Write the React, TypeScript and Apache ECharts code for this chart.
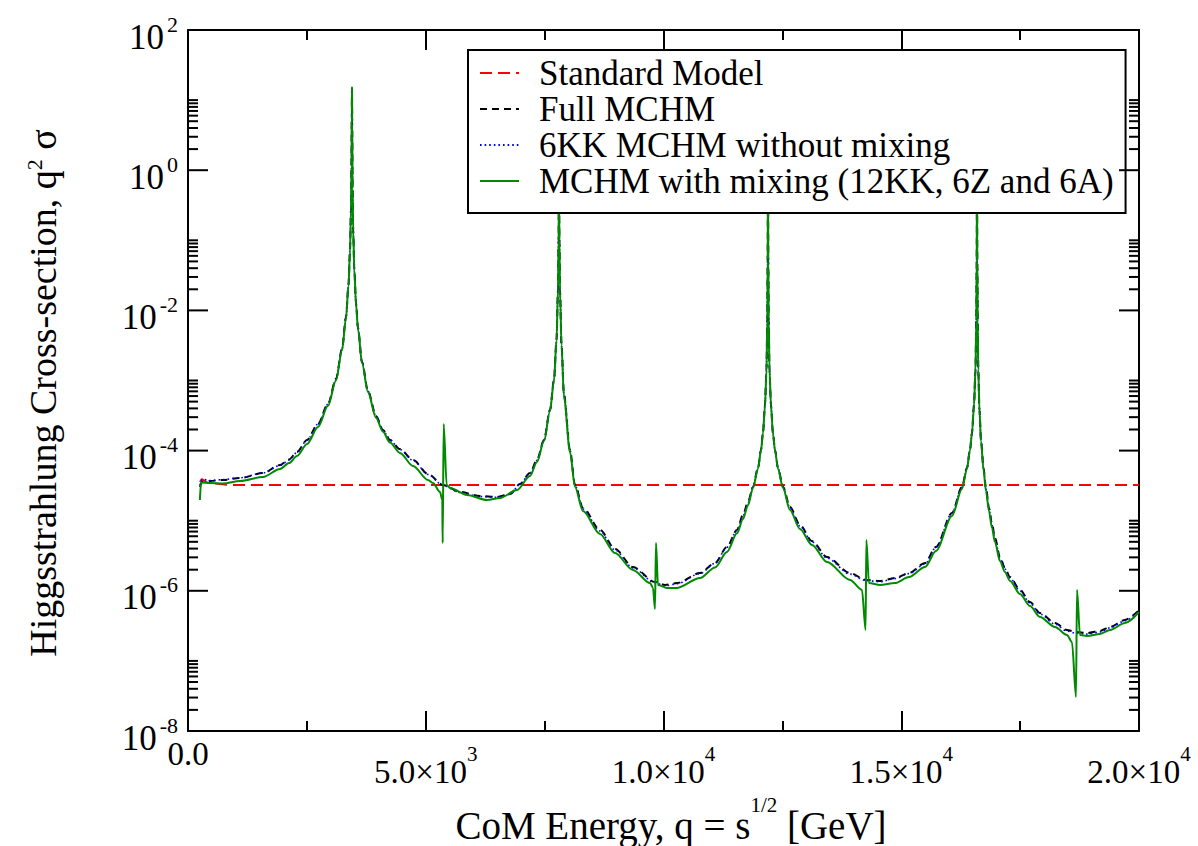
import React, { useEffect, useRef } from 'react';
import * as echarts from 'echarts';

const FONT = 'Liberation Serif, Times New Roman, Times, serif';

// ---- axis ticks / labels ----
const X_TICKS = [0, 5000, 10000, 15000, 20000];
const X_TICK_BASES = ['0.0', '5.0×10', '1.0×10', '1.5×10', '2.0×10'];
const X_TICK_EXPONENTS = ['', '3', '4', '4', '4'];

const Y_MAJOR_TICKS = [1e-8, 1e-6, 1e-4, 1e-2, 1, 100];
const Y_TICK_EXPONENTS = ['-8', '-6', '-4', '-2', '0', '2'];
const Y_MINOR_MULTIPLES = [2, 3, 4, 5, 6, 7, 8, 9, 10];

const LEGEND_NAMES = [
  'Standard Model',
  'Full MCHM',
  '6KK MCHM without mixing',
  'MCHM with mixing (12KK, 6Z and 6A)',
];

// ---- series values: [q (GeV), q^2 sigma] ----
const SM_DATA = [
  [252, 3.56e-5], [290, 3.93e-5], [420, 3.45e-5], [900, 3.23e-5], [20000, 3.23e-5],
];

const FULL_DATA = [
  [252, 3.03e-5], [294, 3.56e-5], [463, 3.68e-5], [736, 3.81e-5], [1094, 4.06e-5],
  [1577, 4.79e-5], [1935, 6.23e-5], [2124, 7.46e-5], [2292, 9.55e-5], [2503, 1.417e-4],
  [2734, 2.4e-4], [2944, 4.62e-4], [3112, 1.05e-3], [3239, 2.81e-3], [3323, 8.05e-3],
  [3375, 2.3e-2], [3407, 7.04e-2], [3428, 0.28], [3438, 1.15], [3445, 7.0], [3449, 14.9],
  [3453, 5.03], [3461, 0.557], [3474, 0.14], [3497, 3.9e-2], [3533, 1.276e-2], [3575, 5.61e-3],
  [3659, 1.84e-3], [3785, 7.08e-4], [3954, 3.12e-4], [4101, 1.97e-4], [4248, 1.417e-4],
  [4458, 1.05e-4], [4732, 7.34e-5], [5047, 4.64e-5], [5363, 3.23e-5], [5720, 2.57e-5],
  [6141, 2.25e-5], [6498, 2.18e-5], [6772, 2.4e-5], [6982, 3.34e-5], [7192, 4.79e-5],
  [7339, 7.34e-5], [7487, 1.417e-4], [7613, 3.8e-4], [7697, 1.017e-3], [7750, 3.78e-3],
  [7781, 1.955e-2], [7794, 0.101], [7800, 0.376], [7802, 1.0], [7804, 0.376],
  [7811, 0.101], [7823, 1.955e-2], [7855, 3.21e-3], [7907, 6.21e-4], [8033, 1.02e-4],
  [8139, 3.23e-5], [8307, 1.52e-5], [8664, 7.37e-6], [8980, 3.95e-6], [9358, 2.18e-6],
  [9821, 1.335e-6], [10031, 1.21e-6], [10284, 1.29e-6], [10767, 1.79e-6], [11083, 2.49e-6],
  [11335, 4.22e-6], [11545, 7.37e-6], [11672, 1.21e-5], [11777, 1.85e-5], [11882, 3.03e-5],
  [11987, 5.65e-5], [12050, 1.02e-4], [12092, 1.78e-4], [12134, 4.47e-4], [12166, 1.412e-3],
  [12183, 7.3e-3], [12191, 5.24e-2], [12197, 1.0], [12204, 5.24e-2], [12212, 7.3e-3],
  [12229, 1.412e-3], [12260, 4.47e-4], [12302, 1.78e-4], [12345, 1.02e-4], [12408, 5.65e-5],
  [12513, 3.03e-5], [12660, 1.57e-5], [12870, 8.68e-6], [13123, 5.13e-6], [13438, 3.03e-6],
  [13922, 1.79e-6], [14258, 1.43e-6], [14553, 1.38e-6], [14868, 1.52e-6], [15163, 1.79e-6],
  [15499, 2.49e-6], [15730, 4.22e-6], [16067, 1.29e-5], [16277, 3.03e-5], [16382, 5.65e-5],
  [16445, 1.02e-4], [16487, 1.78e-4], [16530, 4.47e-4], [16561, 1.412e-3], [16578, 7.3e-3],
  [16587, 5.24e-2], [16593, 1.0], [16599, 5.24e-2], [16608, 7.3e-3], [16620, 1.412e-3],
  [16645, 3.8e-4], [16677, 1.417e-4], [16730, 5.65e-5], [16782, 2.93e-5], [16845, 1.52e-5],
  [16908, 8.97e-6], [16971, 5.67e-6], [17076, 3.03e-6], [17181, 2.12e-6], [17287, 1.57e-6],
  [17497, 1.03e-6], [17707, 6.92e-7], [17918, 4.82e-7], [18233, 3.47e-7], [18485, 2.76e-7],
  [18675, 2.58e-7], [18906, 2.5e-7], [19179, 2.67e-7], [19390, 3.05e-7], [19705, 3.83e-7],
  [20000, 5.32e-7],
];

const KK6_DATA = [
  [252, 3.2e-5], [294, 3.9e-5], [463, 3.75e-5], [736, 3.85e-5], [1094, 4.1e-5],
  [1577, 4.8e-5], [1935, 6.13e-5], [2124, 7.34e-5], [2292, 9.4e-5], [2503, 1.41e-4],
  [2734, 2.39e-4], [2944, 4.6e-4], [3112, 1.045e-3], [3239, 2.8e-3], [3323, 8.0e-3],
  [3375, 2.29e-2], [3407, 7.0e-2], [3428, 0.28], [3438, 1.15], [3445, 7.0], [3449, 14.9],
  [3453, 5.03], [3461, 0.557], [3474, 0.14], [3497, 3.88e-2], [3533, 1.27e-2], [3575, 5.58e-3],
  [3659, 1.83e-3], [3785, 7.03e-4], [3954, 3.1e-4], [4101, 1.95e-4], [4248, 1.4e-4],
  [4458, 1.04e-4], [4732, 7.25e-5], [5047, 4.58e-5], [5363, 3.18e-5], [5720, 2.53e-5],
  [6141, 2.21e-5], [6498, 2.15e-5], [6772, 2.37e-5], [6982, 3.31e-5], [7192, 4.75e-5],
  [7339, 7.3e-5], [7487, 1.41e-4], [7613, 3.79e-4], [7697, 1.015e-3], [7750, 3.77e-3],
  [7781, 1.95e-2], [7794, 0.1], [7800, 0.376], [7802, 1.0], [7804, 0.376],
  [7811, 0.1], [7823, 1.95e-2], [7855, 3.2e-3], [7907, 6.18e-4], [8033, 1.01e-4],
  [8139, 3.19e-5], [8307, 1.47e-5], [8664, 7.13e-6], [8980, 3.82e-6], [9358, 2.12e-6],
  [9821, 1.3e-6], [10031, 1.18e-6], [10284, 1.26e-6], [10767, 1.76e-6], [11083, 2.46e-6],
  [11335, 4.18e-6], [11545, 7.3e-6], [11672, 1.17e-5], [11777, 1.79e-5], [11882, 3.02e-5],
  [11987, 5.63e-5], [12050, 1.02e-4], [12092, 1.78e-4], [12134, 4.46e-4], [12166, 1.41e-3],
  [12183, 7.3e-3], [12191, 5.24e-2], [12197, 1.0], [12204, 5.24e-2], [12212, 7.3e-3],
  [12229, 1.41e-3], [12260, 4.46e-4], [12302, 1.77e-4], [12345, 1.01e-4], [12408, 5.6e-5],
  [12513, 3.0e-5], [12660, 1.52e-5], [12870, 8.4e-6], [13123, 4.97e-6], [13438, 2.93e-6],
  [13922, 1.73e-6], [14258, 1.4e-6], [14553, 1.35e-6], [14868, 1.49e-6], [15163, 1.76e-6],
  [15499, 2.41e-6], [15730, 4.17e-6], [16067, 1.28e-5], [16277, 3.02e-5], [16382, 5.63e-5],
  [16445, 1.02e-4], [16487, 1.78e-4], [16530, 4.46e-4], [16561, 1.41e-3], [16578, 7.3e-3],
  [16587, 5.24e-2], [16593, 1.0], [16599, 5.24e-2], [16608, 7.3e-3], [16620, 1.41e-3],
  [16645, 3.79e-4], [16677, 1.41e-4], [16730, 5.6e-5], [16782, 2.83e-5], [16845, 1.47e-5],
  [16908, 8.67e-6], [16971, 5.48e-6], [17076, 2.93e-6], [17181, 2.05e-6], [17287, 1.52e-6],
  [17497, 9.95e-7], [17707, 6.7e-7], [17918, 4.66e-7], [18233, 3.35e-7], [18485, 2.66e-7],
  [18675, 2.48e-7], [18906, 2.41e-7], [19179, 2.58e-7], [19390, 2.96e-7], [19705, 3.73e-7],
  [20000, 5.2e-7],
];

const MIX_DATA = [
  [250, 1.97e-5], [273, 3.45e-5], [294, 3.5e-5], [463, 3.45e-5], [736, 3.4e-5],
  [1094, 3.68e-5], [1577, 4.2e-5], [1935, 5.46e-5], [2124, 6.65e-5], [2292, 8.37e-5],
  [2503, 1.243e-4], [2734, 2.17e-4], [2944, 4.35e-4], [3112, 1.0e-3], [3239, 2.7e-3],
  [3323, 7.8e-3], [3375, 2.25e-2], [3407, 6.9e-2], [3428, 0.275], [3438, 1.13], [3445, 7.0],
  [3449, 15.4], [3453, 5.0], [3461, 0.55], [3474, 0.138], [3497, 3.85e-2], [3533, 1.25e-2],
  [3575, 5.45e-3], [3659, 1.78e-3], [3785, 6.8e-4], [3954, 2.95e-4], [4101, 1.85e-4],
  [4248, 1.3e-4], [4458, 9.24e-5], [4732, 6.03e-5], [5047, 3.81e-5], [5152, 3.45e-5],
  [5300, 2.57e-5], [5348, 1.97e-5], [5356, 4.81e-6], [5377, 2.4e-4], [5440, 3.23e-5],
  [5510, 2.93e-5], [5867, 2.33e-5], [6288, 1.97e-5], [6561, 2.11e-5], [6919, 2.74e-5],
  [7192, 4.34e-5], [7339, 6.88e-5], [7487, 1.37e-4], [7613, 3.67e-4], [7697, 1.0e-3],
  [7750, 3.75e-3], [7781, 1.95e-2], [7794, 0.1], [7800, 0.376], [7802, 1.0], [7804, 0.376],
  [7811, 0.1], [7823, 1.95e-2], [7855, 3.15e-3], [7907, 5.82e-4], [8033, 9.55e-5],
  [8139, 3.03e-5], [8307, 1.375e-5], [8664, 6.46e-6], [8980, 3.46e-6], [9358, 1.98e-6],
  [9716, 1.29e-6], [9779, 1.1e-6], [9821, 5.5e-7], [9842, 4.81e-6], [9884, 1.21e-6],
  [10073, 1.1e-6], [10284, 1.1e-6], [10767, 1.52e-6], [11083, 2.15e-6], [11335, 3.58e-6],
  [11545, 6.6e-6], [11672, 1.06e-5], [11777, 1.67e-5], [11882, 2.93e-5], [11987, 5.5e-5],
  [12050, 1.0e-4], [12092, 1.75e-4], [12134, 4.4e-4], [12166, 1.4e-3], [12183, 7.3e-3],
  [12191, 5.24e-2], [12197, 1.0], [12204, 5.24e-2], [12212, 7.3e-3], [12229, 1.4e-3],
  [12260, 4.4e-4], [12302, 1.75e-4], [12345, 1.0e-4], [12408, 5.5e-5], [12513, 2.93e-5],
  [12660, 1.42e-5], [12870, 7.62e-6], [13123, 4.5e-6], [13438, 2.58e-6], [13922, 1.43e-6],
  [14174, 1.03e-6], [14250, 2.76e-7], [14266, 5.3e-6], [14321, 1.29e-6], [14553, 1.21e-6],
  [14868, 1.29e-6], [15163, 1.57e-6], [15499, 2.18e-6], [15730, 3.7e-6], [16067, 1.17e-5],
  [16277, 2.83e-5], [16382, 5.5e-5], [16445, 1.0e-4], [16487, 1.75e-4], [16530, 4.4e-4],
  [16561, 1.4e-3], [16578, 7.3e-3], [16587, 5.24e-2], [16593, 1.0], [16599, 5.24e-2],
  [16608, 7.3e-3], [16620, 1.4e-3], [16645, 3.7e-4], [16677, 1.37e-4], [16730, 5.3e-5],
  [16782, 2.65e-5], [16845, 1.375e-5], [16908, 7.87e-6], [16971, 4.97e-6], [17076, 2.66e-6],
  [17181, 1.855e-6], [17287, 1.38e-6], [17497, 9.0e-7], [17707, 6.07e-7], [17918, 4.23e-7],
  [18233, 3.05e-7], [18485, 2.34e-7], [18590, 1.86e-7], [18675, 3.06e-8], [18696, 1.03e-6],
  [18759, 2.34e-7], [18906, 2.27e-7], [19179, 2.42e-7], [19390, 2.76e-7], [19705, 3.47e-7],
  [20000, 4.98e-7],
];

const X_MIN = 0;
const X_MAX = 20000;

function buildOption(): any {
  const yTickData: number[][] = [];
  Y_MAJOR_TICKS.forEach((v) => yTickData.push([X_MIN, v, 20]));
  Y_MAJOR_TICKS.slice(0, -1).forEach((v) =>
    Y_MINOR_MULTIPLES.forEach((m) => yTickData.push([X_MIN, v * m, 10]))
  );
  const yLabelData = Y_MAJOR_TICKS.map((v, i) => [X_MIN, v, i]);

  const xAxisCommon = {
    type: 'value',
    min: X_MIN,
    max: X_MAX,
    interval: 5000,
    axisLine: { show: true, onZero: false, lineStyle: { color: '#000', width: 2 } },
    axisTick: { show: true, inside: true, length: 20, lineStyle: { color: '#000', width: 2 } },
    minorTick: { show: true, splitNumber: 2, length: 10, lineStyle: { color: '#000', width: 2 } },
    splitLine: { show: false },
    minorSplitLine: { show: false },
  };

  const yAxisCommon = {
    type: 'log',
    logBase: 10,
    min: 1e-8,
    max: 100,
    axisLine: { show: true, onZero: false, lineStyle: { color: '#000', width: 2 } },
    axisTick: { show: false },
    minorTick: { show: false },
    axisLabel: { show: false },
    splitLine: { show: false },
    minorSplitLine: { show: false },
  };

  const lineBase = {
    type: 'line',
    xAxisIndex: 0,
    yAxisIndex: 0,
    showSymbol: false,
    symbol: 'none',
    silent: true,
    clip: true,
    smooth: 0.3,
    smoothMonotone: 'x',
  };

  return {
    animation: false,
    backgroundColor: '#fff',
    grid: { left: 188, top: 30, width: 951, height: 701, show: false },
    xAxis: [
      {
        ...xAxisCommon,
        position: 'bottom',
        axisLabel: {
          show: true,
          margin: 12,
          formatter: (v: number) => {
            const i = X_TICKS.indexOf(v);
            if (i < 0) return '';
            const exp = X_TICK_EXPONENTS[i];
            return exp ? `{b|${X_TICK_BASES[i]}}{s|${exp}}` : `{p|${X_TICK_BASES[i]}}`;
          },
          rich: {
            p: { fontFamily: FONT, fontSize: 33, lineHeight: 22, color: '#000' },
            b: { fontFamily: FONT, fontSize: 33, lineHeight: 58, color: '#000' },
            s: { fontFamily: FONT, fontSize: 21, lineHeight: 28, verticalAlign: 'top', color: '#000' },
          },
        },
      },
      { ...xAxisCommon, position: 'top', axisLabel: { show: false } },
    ],
    yAxis: [
      { ...yAxisCommon, position: 'left' },
      { ...yAxisCommon, position: 'right' },
    ],
    legend: {
      data: LEGEND_NAMES,
      orient: 'vertical',
      left: 468,
      top: 50,
      itemWidth: 39,
      itemHeight: 14,
      itemGap: 0,
      padding: [5, 12, 14, 11],
      backgroundColor: '#fff',
      borderColor: '#000',
      borderWidth: 2,
      borderRadius: 0,
      selectedMode: false,
      itemStyle: { opacity: 0 },
      textStyle: { fontFamily: FONT, fontSize: 35, color: '#000', lineHeight: 36, padding: [0, 0, 0, 15] },
    },
    graphic: [
      {
        type: 'text',
        x: 671,
        y: 805,
        silent: true,
        style: {
          text: '{t|CoM Energy, q = s}{s|1/2}{t| [GeV]}',
          align: 'center',
          verticalAlign: 'middle',
          rich: {
            t: { fontFamily: FONT, fontSize: 39, lineHeight: 32, verticalAlign: 'bottom', fill: '#000', color: '#000' },
            s: { fontFamily: FONT, fontSize: 21, lineHeight: 80, fill: '#000', color: '#000' },
          },
        },
      },
      {
        type: 'text',
        x: 34,
        y: 393,
        rotation: Math.PI / 2,
        silent: true,
        style: {
          text: '{t|Higgsstrahlung Cross-section, q}{s|2}{t| σ}',
          align: 'center',
          verticalAlign: 'middle',
          rich: {
            t: { fontFamily: FONT, fontSize: 38, lineHeight: 32, verticalAlign: 'bottom', fill: '#000', color: '#000' },
            s: { fontFamily: FONT, fontSize: 22, lineHeight: 56, fill: '#000', color: '#000' },
          },
        },
      },
    ],
    series: [
      {
        ...lineBase,
        name: LEGEND_NAMES[0],
        data: SM_DATA,
        smooth: false,
        lineStyle: { color: '#ff0000', width: 2, type: [12, 6] },
        itemStyle: { color: '#ff0000' },
      },
      {
        ...lineBase,
        name: LEGEND_NAMES[1],
        data: FULL_DATA,
        lineStyle: { color: '#000000', width: 2, type: [7, 5] },
        itemStyle: { color: '#000000' },
      },
      {
        ...lineBase,
        name: LEGEND_NAMES[2],
        data: KK6_DATA,
        lineStyle: { color: '#0000ff', width: 1.6, type: [1.6, 3] },
        itemStyle: { color: '#0000ff' },
      },
      {
        ...lineBase,
        name: LEGEND_NAMES[3],
        data: MIX_DATA,
        lineStyle: { color: '#008a00', width: 2 },
        itemStyle: { color: '#008a00' },
      },
      {
        type: 'custom',
        name: 'yticks',
        xAxisIndex: 0,
        yAxisIndex: 0,
        silent: true,
        clip: false,
        z: 5,
        encode: { x: 0, y: 1 },
        data: yTickData,
        renderItem: (params: any, api: any) => {
          const v = api.value(1);
          const len = api.value(2);
          const l = api.coord([X_MIN, v]);
          const r = api.coord([X_MAX, v]);
          const st = { stroke: '#000', lineWidth: 2 };
          return {
            type: 'group',
            children: [
              { type: 'line', shape: { x1: l[0], y1: l[1], x2: l[0] + len, y2: l[1] }, style: st },
              { type: 'line', shape: { x1: r[0] - len, y1: r[1], x2: r[0], y2: r[1] }, style: st },
            ],
          };
        },
      },
      {
        type: 'custom',
        name: 'ylabels',
        xAxisIndex: 0,
        yAxisIndex: 0,
        silent: true,
        clip: false,
        z: 5,
        encode: { x: 0, y: 1 },
        data: yLabelData,
        renderItem: (params: any, api: any) => {
          const v = api.value(1);
          const i = api.value(2);
          const p = api.coord([X_MIN, v]);
          return {
            type: 'text',
            x: p[0] - 10,
            y: p[1] - 17,
            style: {
              text: `{b|10}{s|${Y_TICK_EXPONENTS[i]}}`,
              align: 'right',
              verticalAlign: 'top',
              rich: {
                b: { fontFamily: FONT, fontSize: 35, lineHeight: 48, fill: '#000', color: '#000' },
                s: { fontFamily: FONT, fontSize: 22, lineHeight: 16, verticalAlign: 'top', fill: '#000', color: '#000', padding: [0, 0, 0, 3] },
              },
            },
          };
        },
      },
    ],
  };
}

export default function App() {
  const ref = useRef<HTMLDivElement>(null);
  useEffect(() => {
    document.body.style.margin = '0';
    if (!ref.current) return;
    const chart = echarts.init(ref.current, null, { renderer: 'svg' });
    chart.setOption(buildOption());
    return () => chart.dispose();
  }, []);
  return <div ref={ref} style={{ width: 1198, height: 846, position: 'absolute', left: 0, top: 0 }} />;
}
